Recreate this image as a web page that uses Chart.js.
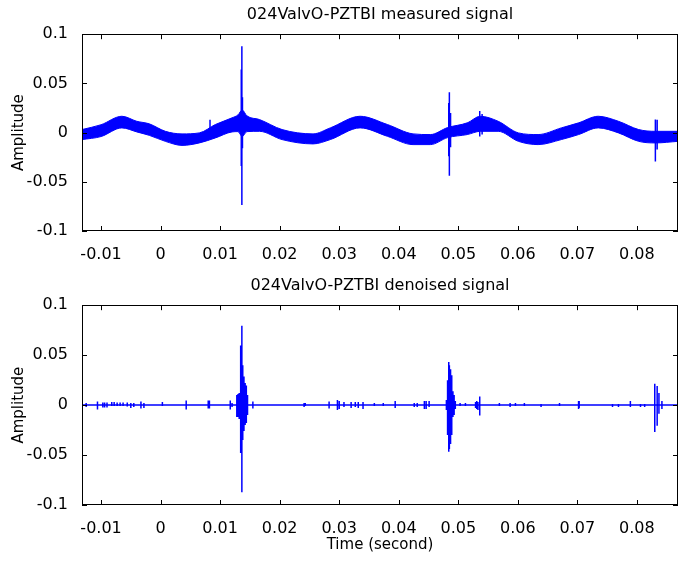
<!DOCTYPE html>
<html>
<head>
<meta charset="utf-8">
<script src="https://cdn.jsdelivr.net/npm/chart.js@4.4.1/dist/chart.umd.min.js"></script>
<style>
  body { margin: 0; background: #fff; }
  .wrap { position: relative; width: 686px; height: 561px; }
  canvas { position: absolute; left: 0; }
  #measured { top: 0; }
  #denoised { top: 260px; }
</style>
</head>
<body>
<div class="wrap">
  <canvas id="measured" width="686" height="260"></canvas>
  <canvas id="denoised" width="686" height="301"></canvas>
</div>
<script>
// x range and tick values (seconds / amplitude)
const xMin = -0.0132, xMax = 0.0869;
const xTicks = [-0.01, 0, 0.01, 0.02, 0.03, 0.04, 0.05, 0.06, 0.07, 0.08];
const yTicks = [-0.1, -0.05, 0, 0.05, 0.1];

// measured signal: noisy band read as upper / lower envelope
const bandT  = [-0.0132, -0.0100, -0.0065, -0.0040, -0.0019, 0.0008, 0.0036, 0.0065, 0.0092, 0.0120, 0.0130, 0.0137, 0.0145, 0.0166, 0.0204, 0.0256, 0.0285, 0.0335, 0.0381, 0.0424, 0.0453, 0.0482, 0.0515, 0.0537, 0.0567, 0.0601, 0.0634, 0.0673, 0.0702, 0.0735, 0.0769, 0.0803, 0.0831, 0.0869];
const bandHi = [0.0031, 0.0080, 0.0166, 0.0115, 0.0089, 0.0013, -0.0013, -0.0003, 0.0082, 0.0150, 0.0180, 0.0230, 0.0170, 0.0133, 0.0031, -0.0013, 0.0048, 0.0166, 0.0082, -0.0013, -0.0020, 0.0051, 0.0099, 0.0166, 0.0115, -0.0003, -0.0020, 0.0048, 0.0099, 0.0166, 0.0115, 0.0031, 0.0013, 0.0013];
const bandLo = [-0.0071, -0.0040, 0.0048, 0.0007, -0.0028, -0.0089, -0.0130, -0.0105, -0.0054, 0.0007, 0.0010, -0.0040, 0.0010, 0.0013, -0.0071, -0.0115, -0.0071, 0.0048, -0.0038, -0.0122, -0.0122, -0.0051, -0.0020, 0.0013, 0.0013, -0.0089, -0.0122, -0.0071, -0.0020, 0.0048, -0.0003, -0.0089, -0.0105, -0.0089];

// measured signal: spikes sticking out of the band
const rawT  = [0.0083, 0.01355, 0.01365, 0.01375, 0.0484, 0.0485, 0.0487, 0.0536, 0.0540, 0.0831, 0.0834];
const rawHi = [0.0130, 0.0640, 0.0878, 0.0360, 0.0300, 0.0411, 0.0200, 0.0220, 0.0190, 0.0133, 0.0130];
const rawLo = [-0.0030, -0.0340, -0.0735, -0.0160, -0.0240, -0.0439, -0.0150, -0.0040, -0.0020, -0.0293, -0.0173];

// denoised signal: zero line with bursts
const denT  = [-0.0125, -0.0106, -0.0097, -0.0094, -0.0090, -0.0082, -0.0078, -0.0073, -0.0068, -0.0063, -0.0056, -0.0050, -0.0045, -0.0033, -0.0028, 0.0003, 0.0043, 0.0080, 0.0082, 0.0117, 0.0120,
  0.0128, 0.0130, 0.0132, 0.01345, 0.01365, 0.0138, 0.0140, 0.0142, 0.0144, 0.0146, 0.0155,
  0.0241, 0.0243, 0.0283, 0.0297, 0.0300, 0.0308, 0.0320, 0.0327, 0.0332, 0.0340, 0.0359, 0.0374, 0.0394, 0.0426, 0.0431, 0.0443, 0.0446, 0.0451,
  0.0480, 0.0482, 0.0484, 0.0485, 0.0487, 0.0489, 0.0491, 0.0493, 0.0495,
  0.0503, 0.0512, 0.0529, 0.0531, 0.0533, 0.0536,
  0.0569, 0.0587, 0.0596, 0.0611, 0.0639, 0.0670, 0.0702, 0.0703, 0.0759, 0.0769, 0.0789, 0.0806, 0.0813,
  0.0830, 0.0834, 0.0837, 0.0842];
const denHi = [0.002, 0.0035, 0.0025, 0.0025, 0.0025, 0.003, 0.003, 0.0025, 0.0025, 0.0025, 0.0025, 0.002, 0.002, 0.0035, 0.002, 0.003, 0.0045, 0.0045, 0.0045, 0.0045, 0.002,
  0.010, 0.011, 0.012, 0.0597, 0.0794, 0.040, 0.0287, 0.022, 0.0197, 0.010, 0.0035,
  0.002, 0.002, 0.0035, 0.005, 0.004, 0.003, 0.003, 0.003, 0.003, 0.003, 0.002, 0.002, 0.004, 0.002, 0.002, 0.004, 0.004, 0.004,
  0.005, 0.025, 0.0431, 0.040, 0.036, 0.030, 0.0138, 0.010, 0.004,
  0.002, 0.002, 0.003, 0.004, 0.003, 0.0086,
  0.002, 0.002, 0.002, 0.002, 0.001, 0.002, 0.004, 0.004, 0.001, 0.001, 0.004, 0.001, 0.001,
  0.0214, 0.019, 0.012, 0.004];
const denLo = [-0.002, -0.0045, -0.0025, -0.0025, -0.0025, -0.001, -0.001, -0.001, -0.001, -0.001, -0.0015, -0.003, -0.002, -0.0035, -0.003, -0.001, -0.0045, -0.0035, -0.0035, -0.0045, -0.002,
  -0.012, -0.012, -0.014, -0.048, -0.0873, -0.035, -0.026, -0.020, -0.018, -0.010, -0.0035,
  -0.002, -0.001, -0.0035, -0.005, -0.004, -0.002, -0.003, -0.002, -0.003, -0.004, -0.001, -0.001, -0.003, -0.002, -0.002, -0.004, -0.004, -0.002,
  -0.005, -0.030, -0.0466, -0.044, -0.039, -0.030, -0.012, -0.010, -0.004,
  -0.001, -0.001, -0.003, -0.004, -0.005, -0.0104,
  -0.001, -0.002, -0.001, -0.001, -0.002, -0.001, -0.004, -0.003, -0.002, -0.002, -0.002, -0.002, -0.002,
  -0.0269, -0.0207, -0.0086, -0.004];

const BLUE = '#0000ff';
const FONT = 'DejaVu Sans';

// vertical strokes as a gapped line: (x,hi) -> (x,lo), break
function spikes(ts, his, los) {
  const pts = [];
  ts.forEach((t, i) => {
    pts.push({x: t, y: his[i]}, {x: t, y: los[i]}, {x: t, y: null});
  });
  return pts;
}

// one connected trace: flat zero line that runs up and down every burst
function zeroTrace(ts, his, los) {
  const order = ts.map((t, i) => i).sort((a, b) => ts[a] - ts[b]);
  const pts = [{x: xMin, y: 0}];
  order.forEach(i => {
    pts.push({x: ts[i], y: 0}, {x: ts[i], y: his[i]}, {x: ts[i], y: los[i]}, {x: ts[i], y: 0});
  });
  pts.push({x: xMax, y: 0});
  return pts;
}

// matlab-style box with inward ticks
const boxTicks = {
  id: 'boxTicks',
  afterDatasetsDraw(chart) {
    const {ctx, chartArea: a, scales: {x, y}} = chart;
    ctx.save();
    ctx.strokeStyle = '#000';
    ctx.lineWidth = 1;
    ctx.beginPath();
    x.ticks.forEach(t => {
      const px = Math.round(x.getPixelForValue(t.value)) + 0.5;
      ctx.moveTo(px, a.bottom); ctx.lineTo(px, a.bottom - 5);
      ctx.moveTo(px, a.top); ctx.lineTo(px, a.top + 5);
    });
    y.ticks.forEach(t => {
      const py = Math.round(y.getPixelForValue(t.value)) + 0.5;
      ctx.moveTo(a.left, py); ctx.lineTo(a.left + 5, py);
      ctx.moveTo(a.right, py); ctx.lineTo(a.right - 5, py);
    });
    ctx.stroke();
    ctx.strokeRect(Math.round(a.left) + 0.5, Math.round(a.top) + 0.5, Math.round(a.width) - 1, Math.round(a.height) - 1);
    ctx.restore();
  }
};

function makeOptions(title, titlePad, xHeight, xTitle) {
  return {
    responsive: false,
    animation: false,
    devicePixelRatio: 1,
    layout: { padding: { left: 0, right: 8, top: 0, bottom: 0 } },
    plugins: {
      legend: { display: false },
      tooltip: { enabled: false },
      title: {
        display: true,
        fullSize: false,
        text: title,
        color: '#000',
        font: { family: FONT, size: 16, weight: 'normal' },
        padding: titlePad
      }
    },
    elements: { point: { radius: 0 }, line: { tension: 0 } },
    scales: {
      x: {
        type: 'linear',
        min: xMin,
        max: xMax,
        grid: { display: false },
        border: { display: false },
        afterBuildTicks: s => { s.ticks = xTicks.map(v => ({value: v})); },
        afterFit: s => { s.height = xHeight; },
        ticks: {
          color: '#000',
          padding: 6,
          maxRotation: 0,
          font: { family: FONT, size: 16 },
          callback: v => String(Number(v.toFixed(3)))
        },
        title: {
          display: !!xTitle,
          text: xTitle || '',
          color: '#000',
          font: { family: FONT, size: 15 },
          padding: { top: 0, bottom: 7 }
        }
      },
      y: {
        type: 'linear',
        min: -0.1,
        max: 0.1,
        grid: { display: false },
        border: { display: false },
        afterBuildTicks: s => { s.ticks = yTicks.map(v => ({value: v})); },
        afterFit: s => { s.width = 82; },
        ticks: {
          color: '#000',
          padding: 6,
          font: { family: FONT, size: 16 },
          callback: v => String(Number(v.toFixed(3)))
        },
        title: {
          display: true,
          text: 'Amplitude',
          color: '#000',
          font: { family: FONT, size: 15 },
          padding: { top: 10, bottom: 0 }
        }
      }
    }
  };
}

// top: measured signal
new Chart(document.getElementById('measured').getContext('2d'), {
  type: 'line',
  data: {
    datasets: [
      {
        data: bandT.map((t, i) => ({x: t, y: bandHi[i]})),
        borderColor: BLUE, borderWidth: 1, fill: false,
        cubicInterpolationMode: 'monotone'
      },
      {
        data: bandT.map((t, i) => ({x: t, y: bandLo[i]})),
        borderColor: BLUE, borderWidth: 1, backgroundColor: BLUE, fill: '-1',
        cubicInterpolationMode: 'monotone'
      },
      {
        data: spikes(rawT, rawHi, rawLo),
        borderColor: BLUE, borderWidth: 1.5, spanGaps: false, fill: false
      }
    ]
  },
  options: makeOptions('024ValvO-PZTBI measured signal', { top: 5, bottom: 10 }, 29, null),
  plugins: [boxTicks]
});

// bottom: denoised signal
new Chart(document.getElementById('denoised').getContext('2d'), {
  type: 'line',
  data: {
    datasets: [
      {
        data: zeroTrace(denT, denHi, denLo),
        borderColor: BLUE, borderWidth: 1.5, fill: false
      }
    ]
  },
  options: makeOptions('024ValvO-PZTBI denoised signal', { top: 16, bottom: 10 }, 56, 'Time (second)'),
  plugins: [boxTicks]
});
</script>
</body>
</html>
